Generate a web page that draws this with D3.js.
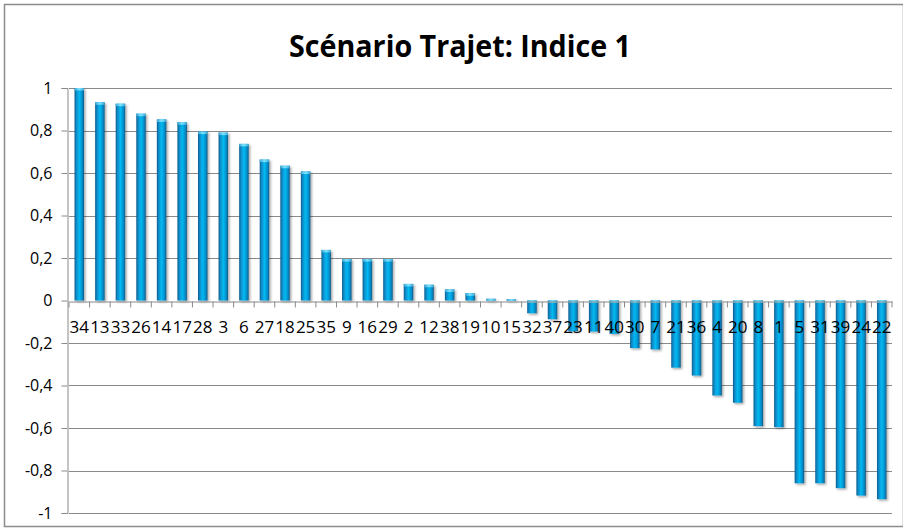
<!DOCTYPE html>
<html>
<head>
<meta charset="utf-8">
<script src="https://cdn.jsdelivr.net/npm/d3@7"></script>
<style>
  html, body { margin: 0; padding: 0; background: #fff; }
  svg { display: block; }
</style>
</head>
<body>
<svg id="chart" width="903" height="531"></svg>
<script>
// Category labels (trajectory numbers), in bar order
const categories = ["34","13","33","26","14","17","28","3","6","27","18","25","35","9","16","29","2","12","38","19",
                    "10","15","32","37","23","11","40","30","7","21","36","4","20","8","1","5","31","39","24","22"];
// Index 1 value for each trajectory
const values = [1.00, 0.933, 0.926, 0.879, 0.852, 0.839, 0.795, 0.790, 0.737, 0.663, 0.634, 0.607,
                0.238, 0.195, 0.195, 0.195, 0.078, 0.074, 0.052, 0.034, 0.008, 0.007,
                -0.060, -0.088, -0.145, -0.146, -0.157, -0.224, -0.230, -0.316, -0.353, -0.447,
                -0.481, -0.591, -0.596, -0.860, -0.860, -0.883, -0.918, -0.935];
// Value axis ticks
const yTicks = [1, 0.8, 0.6, 0.4, 0.2, 0, -0.2, -0.4, -0.6, -0.8, -1];
const title = "Scénario Trajet: Indice 1";

const svg = d3.select("#chart");
const W = 903, H = 531;
const plot = { left: 69, right: 892, top: 88, bottom: 513 };

const x = d3.scaleBand().domain(categories).range([plot.left, plot.right]).paddingInner(0.54).paddingOuter(0.27);
const y = d3.scaleLinear().domain([-1, 1]).range([plot.bottom, plot.top]);
// French decimal comma, plain hyphen for negatives
const fmt = v => String(+v.toFixed(1)).replace(".", ",");

const defs = svg.append("defs");
// Cylinder-like shading across the bar width
const grad = defs.append("linearGradient").attr("id", "barGrad").attr("x1", "0").attr("x2", "1").attr("y1", "0").attr("y2", "0");
[["0%", "#0a5c8c"], ["18%", "#0889c6"], ["50%", "#06baf2"], ["80%", "#0690ce"], ["100%", "#095884"]]
  .forEach(([o, c]) => grad.append("stop").attr("offset", o).attr("stop-color", c));
const capGrad = defs.append("linearGradient").attr("id", "capGrad").attr("x1", "0").attr("x2", "1").attr("y1", "0").attr("y2", "0");
[["0%", "#3aa9d6"], ["50%", "#7fe3ff"], ["100%", "#3aa9d6"]]
  .forEach(([o, c]) => capGrad.append("stop").attr("offset", o).attr("stop-color", c));
const shadow = defs.append("filter").attr("id", "shadow").attr("x", "-50%").attr("y", "-10%").attr("width", "200%").attr("height", "120%");
shadow.append("feDropShadow").attr("dx", 1.5).attr("dy", 1.5).attr("stdDeviation", 1.2)
  .attr("flood-color", "#000").attr("flood-opacity", 0.35);

// Outer chart frame
svg.append("rect").attr("x", 4.5).attr("y", 4.5).attr("width", W - 4).attr("height", H - 9)
  .attr("fill", "#fff").attr("stroke", "#8c8c8c").attr("stroke-width", 1.5);

// Title
svg.append("text").attr("x", 460).attr("y", 57).attr("text-anchor", "middle")
  .attr("font-family", "'Open Sans', sans-serif").attr("font-weight", "bold")
  .attr("font-size", 31).attr("textLength", 342).attr("lengthAdjust", "spacingAndGlyphs")
  .attr("fill", "#000").text(title);

// Gridlines
svg.append("g").selectAll("line").data(yTicks.filter(t => t !== 0)).join("line")
  .attr("x1", plot.left).attr("x2", plot.right)
  .attr("y1", d => Math.round(y(d)) + 0.5).attr("y2", d => Math.round(y(d)) + 0.5)
  .attr("stroke", "#8a8a8a").attr("stroke-width", 1);

// Value axis
const yAxis = d3.axisLeft(y).tickValues(yTicks).tickSize(6).tickPadding(9).tickFormat(fmt);
const gy = svg.append("g").attr("transform", `translate(${plot.left - 1.5},0)`).call(yAxis);
gy.select(".domain").attr("stroke", "#8a8a8a");
gy.selectAll(".tick line").attr("stroke", "#8a8a8a");
gy.selectAll(".tick text").attr("font-family", "'Open Sans', sans-serif").attr("font-size", 16).attr("fill", "#000");

// Bars
const bars = svg.append("g").attr("filter", "url(#shadow)");
bars.selectAll("rect.bar").data(values).join("rect").attr("class", "bar")
  .attr("x", (d, i) => x(categories[i]))
  .attr("width", x.bandwidth())
  .attr("y", d => y(Math.max(0, d)))
  .attr("height", d => Math.max(1.5, Math.abs(y(d) - y(0))))
  .attr("fill", "url(#barGrad)");
// Light top cap on each bar
bars.selectAll("rect.cap").data(values).join("rect").attr("class", "cap")
  .attr("x", (d, i) => x(categories[i]))
  .attr("width", x.bandwidth())
  .attr("y", d => (d >= 0 ? y(d) : y(0)))
  .attr("height", d => Math.min(2.5, Math.abs(y(d) - y(0))))
  .attr("fill", "url(#capGrad)");

// Category axis on the zero line, ticks between categories
const xAxis = d3.axisBottom(x).tickSize(0).tickPadding(0);
const gx = svg.append("g").attr("transform", `translate(0,${Math.round(y(0)) + 0.5})`).call(xAxis);
gx.select(".domain").attr("stroke", "#8a8a8a");
gx.selectAll(".tick text").attr("dy", 0).attr("y", 31)
  .attr("font-family", "'Open Sans', sans-serif").attr("font-size", 17).attr("fill", "#000");
const step = x.step();
gx.append("g").selectAll("line").data(d3.range(categories.length + 1)).join("line")
  .attr("x1", i => plot.left + i * step).attr("x2", i => plot.left + i * step)
  .attr("y1", 0).attr("y2", 6).attr("stroke", "#8a8a8a");
</script>
</body>
</html>
